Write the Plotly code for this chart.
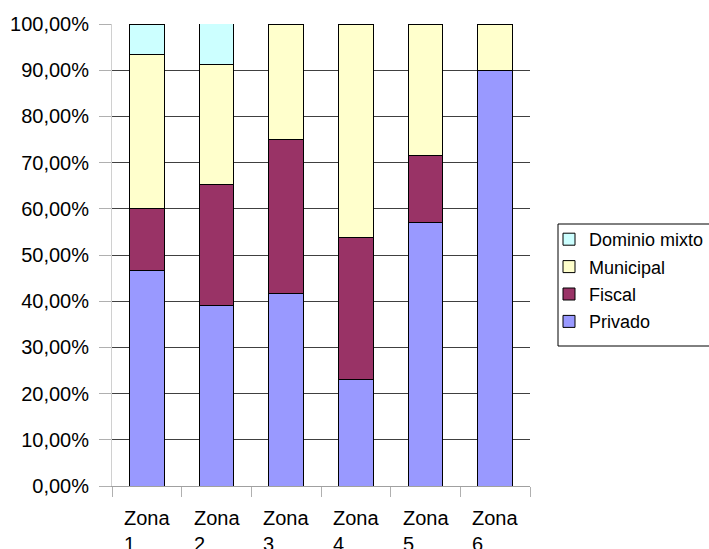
import plotly.graph_objects as go

# Share of properties by ownership type in each zone (percent)
zonas = ["Zona 1", "Zona 2", "Zona 3", "Zona 4", "Zona 5", "Zona 6"]
privado = [46.67, 39.13, 41.67, 23.08, 57.14, 90.00]
fiscal = [13.33, 26.09, 33.33, 30.77, 14.29, 0.00]
municipal = [33.33, 26.09, 25.00, 46.15, 28.57, 10.00]
dominio_mixto = [6.67, 8.70, 0.00, 0.00, 0.00, 0.00]

series = [
    ("Privado", privado, "#9999FF"),
    ("Fiscal", fiscal, "#993366"),
    ("Municipal", municipal, "#FFFFCC"),
    ("Dominio mixto", dominio_mixto, "#CCFFFF"),
]

FONT = "Liberation Sans, Arial, sans-serif"

fig = go.Figure()
for i, (name, vals, color) in enumerate(series):
    fig.add_trace(go.Bar(
        x=zonas,
        y=[v / 100 for v in vals],
        name=name,
        legendgroup=name,
        legendrank=len(series) - i,  # top of the stack listed first
        marker=dict(color=color, line=dict(color="#000000", width=1)),
    ))

# Two-line, left-aligned category labels under the axis
for z in zonas:
    fig.add_annotation(
        x=z, xref="x", y=0, yref="paper",
        yanchor="top", xanchor="center", yshift=-19,
        text=z.replace(" ", "<br>"), align="left", showarrow=False,
        font=dict(family=FONT, size=20, color="#000000"),
    )

# Legend frame
fig.add_shape(
    type="rect", xref="paper", yref="paper",
    x0=(558 - 112) / 418, x1=(720 - 112) / 418,
    y0=(486 - 346) / 462, y1=(486 - 224) / 462,
    line=dict(color="#000000", width=1), fillcolor="rgba(0,0,0,0)",
    layer="above",
)

fig.update_layout(
    width=709, height=549,
    margin=dict(l=112, r=179, t=24, b=63, autoexpand=False),
    paper_bgcolor="#FFFFFF", plot_bgcolor="#FFFFFF",
    barmode="stack", bargap=0.5,
    separators=",.",
    font=dict(family=FONT, color="#000000"),
    showlegend=True,
    legend=dict(
        x=(549 - 112) / 418, xanchor="left",
        y=(486 - 221) / 462, yanchor="top",
        traceorder="grouped", tracegroupgap=1,
        borderwidth=0, bgcolor="rgba(0,0,0,0)",
        font=dict(family=FONT, size=18, color="#000000"),
    ),
    xaxis=dict(
        type="category", tickson="boundaries", ticks="outside",
        ticklen=10, tickcolor="#B0B0B0", showticklabels=False,
        showline=True, linecolor="#A0A0A0", linewidth=1,
        showgrid=False, zeroline=False,
    ),
    yaxis=dict(
        range=[0, 1], dtick=0.1, tickformat=".2%",
        ticks="outside", ticklen=12, tickcolor="#B0B0B0",
        ticklabelstandoff=6,
        showline=True, linecolor="#D0D0D0", linewidth=1,
        showgrid=True, gridcolor="#404040", gridwidth=1,
        zeroline=False,
        tickfont=dict(family=FONT, size=20, color="#000000"),
    ),
)

fig.write_html("out.html")
